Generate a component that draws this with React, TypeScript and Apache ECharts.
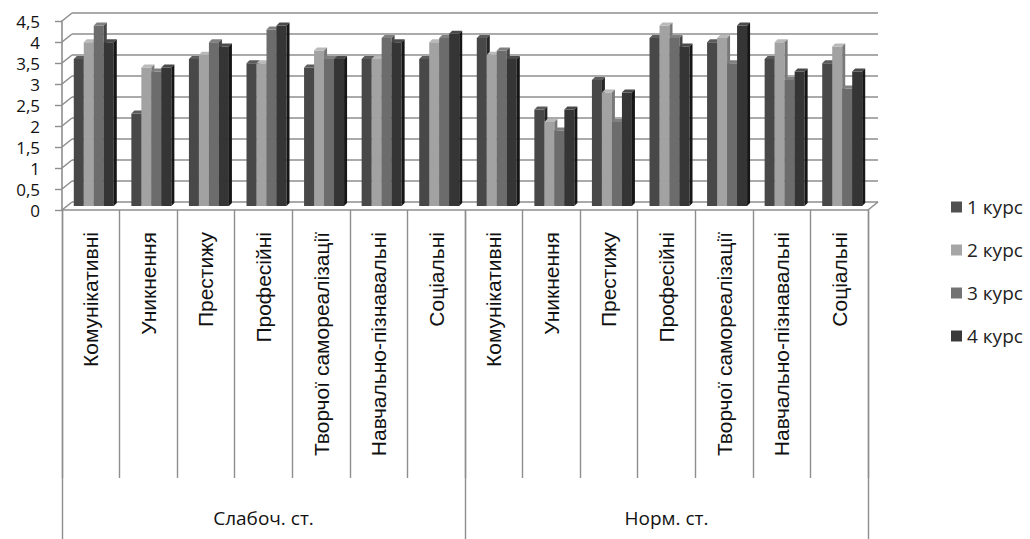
import React, { useEffect, useRef } from "react";
import * as echarts from "echarts";

const categories = [
  "Комунікативні",
  "Уникнення",
  "Престижу",
  "Професійні",
  "Творчої самореалізації",
  "Навчально-пізнавальні",
  "Соціальні",
  "Комунікативні",
  "Уникнення",
  "Престижу",
  "Професійні",
  "Творчої самореалізації",
  "Навчально-пізнавальні",
  "Соціальні",
];
const groups = ["Слабоч. ст.", "Норм. ст."];
const seriesNames = ["1 курс", "2 курс", "3 курс", "4 курс"];
const course1 = [3.5, 2.2, 3.5, 3.4, 3.3, 3.5, 3.5, 4.0, 2.3, 3.0, 4.0, 3.9, 3.5, 3.4];
const course2 = [3.9, 3.3, 3.6, 3.4, 3.7, 3.5, 3.9, 3.6, 2.0, 2.7, 4.3, 4.0, 3.9, 3.8];
const course3 = [4.3, 3.2, 3.9, 4.2, 3.5, 4.0, 4.0, 3.7, 1.8, 2.0, 4.0, 3.4, 3.0, 2.8];
const course4 = [3.9, 3.3, 3.8, 4.3, 3.5, 3.9, 4.1, 3.5, 2.3, 2.7, 3.8, 4.3, 3.2, 3.2];
const yTicks = [0, 0.5, 1, 1.5, 2, 2.5, 3, 3.5, 4, 4.5];

const faceColors = [
  { front: "#484848", top: "#5c5c5c", side: "#262626", legend: "#505050" },
  { front: "#a2a2a2", top: "#bababa", side: "#787878", legend: "#a6a6a6" },
  { front: "#6c6c6c", top: "#808080", side: "#464646", legend: "#737373" },
  { front: "#353535", top: "#4a4a4a", side: "#161616", legend: "#3a3a3a" },
];

const DX = 10;
const DY = 8;
const GRID_COLOR = "#8e8e8e";
const SANS = "'Open Sans', 'Noto Sans', sans-serif";
const ARIAL = "'Liberation Sans', Arial, sans-serif";

function makeBarRender(i: number) {
  const c = faceColors[i];
  return (params: any, api: any) => {
    const idx = api.value(0);
    const v = api.value(1);
    const base = api.coord([idx, 0]);
    const top = api.coord([idx, v]);
    const bw = 10;
    const d = 3;
    const cx = base[0] + 3;
    const l = cx - 2 * bw + i * bw;
    const r = l + bw;
    const yb = base[1] - 4;
    const yt = top[1] - 4;
    return {
      type: "group",
      children: [
        {
          type: "rect",
          shape: { x: l, y: yt, width: bw, height: yb - yt },
          style: { fill: c.front },
        },
        {
          type: "polygon",
          shape: { points: [[l, yt], [r, yt], [r + d, yt - d], [l + d, yt - d]] },
          style: { fill: c.top },
        },
        {
          type: "polygon",
          shape: { points: [[r, yt], [r + d, yt - d], [r + d, yb - d], [r, yb]] },
          style: { fill: c.side },
        },
      ],
    };
  };
}

function frameRender(params: any, api: any) {
  const cs = params.coordSys;
  const v = api.value(1);
  const y = api.coord([0, v])[1];
  const style = { stroke: GRID_COLOR, lineWidth: 1.6 };
  const children: any[] = [
    { type: "line", shape: { x1: cs.x, y1: y, x2: cs.x + DX, y2: y - DY }, style },
    {
      type: "line",
      shape: { x1: cs.x + DX, y1: y - DY, x2: cs.x + cs.width + DX, y2: y - DY },
      style,
    },
  ];
  if (v === 0) {
    children.push({
      type: "line",
      shape: { x1: cs.x + cs.width, y1: y, x2: cs.x + cs.width + DX, y2: y - DY },
      style,
    });
  }
  return { type: "group", children };
}

export default function App() {
  const ref = useRef<HTMLDivElement>(null);
  useEffect(() => {
    if (!ref.current) return;
    const chart = echarts.init(ref.current, undefined, { renderer: "svg" });
    const values = [course1, course2, course3, course4];
    const barSeries = values.map((arr, i) => ({
      name: seriesNames[i],
      type: "custom",
      xAxisIndex: 0,
      yAxisIndex: 0,
      z: 3,
      itemStyle: { color: faceColors[i].legend },
      renderItem: makeBarRender(i),
      encode: { x: 0, y: 1 },
      data: arr.map((v, k) => [k, v]),
    }));
    chart.setOption({
      animation: false,
      backgroundColor: "#ffffff",
      grid: { left: 62, top: 21, width: 806, height: 189 },
      legend: {
        orient: "vertical",
        left: 951,
        top: 196,
        padding: 0,
        itemWidth: 11,
        itemHeight: 11,
        itemGap: 21,
        icon: "rect",
        data: seriesNames,
        textStyle: { fontFamily: SANS, fontSize: 19, color: "#222", lineHeight: 22 },
      },
      xAxis: [
        {
          type: "category",
          gridIndex: 0,
          position: "bottom",
          data: categories,
          axisLine: { show: true, lineStyle: { color: GRID_COLOR, width: 1.6 } },
          axisTick: { show: true, interval: 0, length: 268, lineStyle: { color: GRID_COLOR, width: 1.4 } },
          axisLabel: {
            interval: 0,
            rotate: 90,
            margin: 22,
            fontFamily: ARIAL,
            fontSize: 21,
            color: "#111",
          },
          splitLine: { show: false },
        },
        {
          type: "category",
          gridIndex: 0,
          position: "bottom",
          offset: 0,
          data: groups,
          axisLine: { show: false },
          axisTick: { show: true, interval: 0, length: 330, lineStyle: { color: GRID_COLOR, width: 1.4 } },
          axisLabel: {
            interval: 0,
            margin: 298,
            fontFamily: SANS,
            fontSize: 19,
            color: "#111",
          },
          splitLine: { show: false },
        },
      ],
      yAxis: {
        type: "value",
        min: 0,
        max: 4.5,
        interval: 0.5,
        axisLine: { show: true, lineStyle: { color: GRID_COLOR, width: 1.6 } },
        axisTick: { show: true, length: 7, lineStyle: { color: GRID_COLOR, width: 1.4 } },
        axisLabel: {
          margin: 22,
          fontFamily: SANS,
          fontSize: 17,
          lineHeight: 17,
          color: "#111",
          formatter: (v: number) => String(v).replace(".", ","),
        },
        splitLine: { show: false },
      },
      series: [
        {
          name: "frame",
          type: "custom",
          xAxisIndex: 0,
          yAxisIndex: 0,
          z: 1,
          silent: true,
          renderItem: frameRender,
          encode: { x: 0, y: 1 },
          data: yTicks.map((v) => [0, v]),
        },
        ...barSeries,
      ],
    });
    return () => chart.dispose();
  }, []);
  return (
    <div
      ref={ref}
      style={{ position: "fixed", left: 0, top: 0, width: 1030, height: 539, background: "#fff" }}
    />
  );
}
